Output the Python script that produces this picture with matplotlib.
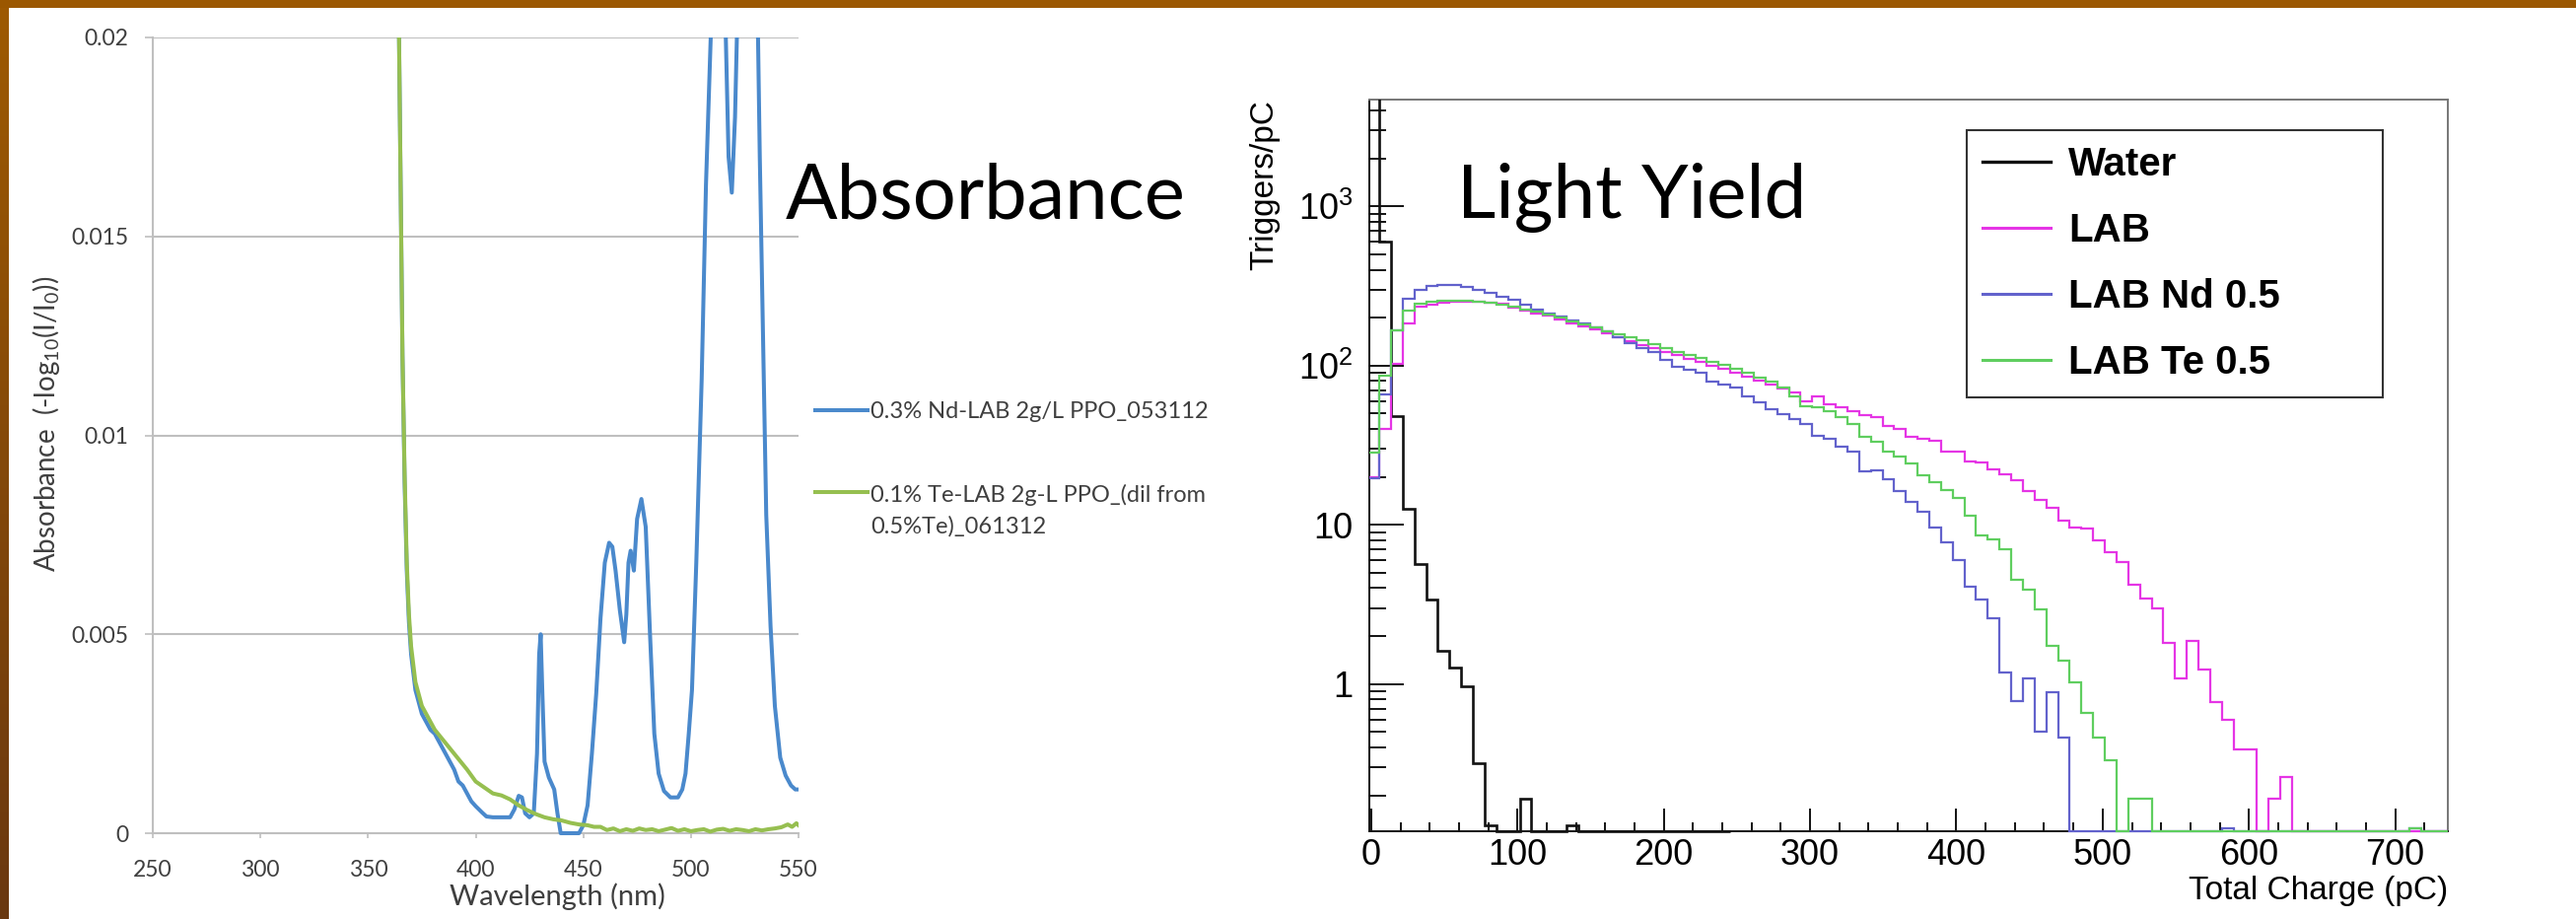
import numpy as np
import matplotlib
matplotlib.use("Agg")
import matplotlib.pyplot as plt
from matplotlib import font_manager
from matplotlib.patches import Rectangle
from matplotlib.lines import Line2D
from matplotlib.font_manager import FontProperties
from matplotlib.ticker import FixedLocator, FixedFormatter, MultipleLocator, LogLocator, NullFormatter

# ---------------- data: absorbance panel ----------------
nd_wavelength = [362, 364.4, 366, 367, 368, 369, 370, 372, 375, 377, 379, 381, 383, 385, 388, 390, 392, 394,
                 396, 398, 400, 403, 405, 408, 412, 416, 418, 420, 421.5, 423, 425, 427, 428.5, 429.5, 430.2,
                 431, 432, 434, 436.5, 438, 439.5, 448, 450, 452, 454, 456, 458, 460, 462, 463.5, 465, 467,
                 469, 470, 471, 472, 473.5, 475, 477, 479, 481, 483, 485, 487.5, 490.5, 494, 496, 497.5, 499,
                 500.5, 502.5, 505, 507, 509.5, 512, 514, 516, 517.5, 519, 520.5, 522, 525, 528, 530.5, 532,
                 533.5, 535, 537, 539, 541.5, 544, 546.5, 548.5, 550]
nd_absorbance = [0.03, 0.02, 0.012, 0.0088, 0.0066, 0.0053, 0.0045, 0.0036, 0.003, 0.0028, 0.0026, 0.0025,
                 0.0023, 0.0021, 0.0018, 0.0016, 0.0013, 0.0012, 0.001, 0.0008, 0.00068, 0.00052, 0.00042,
                 0.0004, 0.0004, 0.0004, 0.0006, 0.00094, 0.0009, 0.0005, 0.0004, 0.0005, 0.002, 0.0045,
                 0.005, 0.0035, 0.0018, 0.0014, 0.0011, 0.0005, 0.0, 0.0, 0.0002, 0.0007, 0.002, 0.0035,
                 0.0054, 0.0068, 0.0073, 0.0072, 0.0066, 0.0056, 0.0048, 0.0055, 0.0068, 0.0071, 0.0066,
                 0.0079, 0.0084, 0.0077, 0.005, 0.0025, 0.0015, 0.00106, 0.0009, 0.0009, 0.0011, 0.0015,
                 0.0025, 0.0036, 0.0068, 0.0114, 0.0163, 0.0205, 0.026, 0.025, 0.0205, 0.017, 0.0161, 0.018,
                 0.0215, 0.027, 0.027, 0.0225, 0.017, 0.0125, 0.008, 0.0052, 0.0032, 0.0019, 0.00145,
                 0.0012, 0.0011, 0.0011]
te_wavelength = [362, 364.4, 366, 367, 368, 369, 370, 372, 375, 378, 381, 384, 387, 390, 393, 396, 400, 404,
                 408, 412, 416, 420, 424, 428, 432, 436, 440, 444, 448, 452, 455, 458, 461, 464, 467, 470,
                 473, 476, 479, 482, 485, 488, 491, 494, 497, 500, 503, 506, 509, 512, 515, 518, 521, 524,
                 527, 530, 533, 536, 539, 542, 545, 547, 549, 550]
te_absorbance = [0.03, 0.02, 0.012, 0.009, 0.0068, 0.0055, 0.0047, 0.0038, 0.0032, 0.0029, 0.0026, 0.0024,
                 0.0022, 0.002, 0.0018, 0.0016, 0.0013, 0.00115, 0.001, 0.00095, 0.00085, 0.0007, 0.00058,
                 0.00048, 0.0004, 0.00035, 0.00032, 0.00026, 0.00022, 0.0002, 0.00016, 0.00016, 0.00008,
                 0.00012, 0.00005, 0.0001, 0.00006, 0.00012, 0.00008, 0.0001, 0.00005, 0.00009, 0.00013,
                 0.00006, 0.0001, 0.00005, 0.00008, 0.0001, 0.00004, 0.00009, 0.00011, 0.00006, 0.0001,
                 0.00008, 0.00005, 0.0001, 0.00007, 0.0001, 0.00012, 0.00015, 0.00022, 0.00016, 0.00025,
                 0.0002]
abs_series_labels = ["0.3% Nd-LAB 2g/L PPO_053112", "0.1% Te-LAB 2g-L PPO_(dil from\n0.5%Te)_061312"]
abs_xticks = [250, 300, 350, 400, 450, 500, 550]
abs_yticks = [0, 0.005, 0.01, 0.015, 0.02]
abs_ytick_labels = ["0", "0.005", "0.01", "0.015", "0.02"]

# ---------------- data: light-yield panel ----------------
charge_first_edge = -2.5
charge_bin_width = 8.0
water_counts = [6000, 600, 48, 12.6, 5.67, 3.4, 1.62, 1.27, 0.97, 0.32, 0.13, 0, 0, 0.19, 0, 0, 0, 0.13,
                0, 0, 0, 0, 0, 0, 0, 0, 0, 0, 0, 0, 0]
lab_counts = [20, 40, 103, 185, 235, 240, 248, 252, 252, 250,
              248, 244, 232, 220, 212, 205, 195, 185, 176, 168,
              160, 150, 142, 134, 128, 122, 116, 110, 105, 100,
              95, 90, 85, 80, 76, 72, 67.4, 60, 64.3, 57,
              54.5, 52, 49, 47.5, 42, 40, 35.5, 34.5, 33.5, 29,
              28.7, 25, 24.5, 22.4, 20.8, 19.1, 16.2, 14.4, 12.8, 10.6,
              9.6, 9.5, 7.95, 6.7, 5.8, 4.2, 3.46, 3.0, 1.82, 1.08,
              1.87, 1.24, 0.77, 0.60, 0.39, 0.39, 0, 0.19, 0.26, 0,
              0, 0, 0, 0, 0, 0, 0, 0, 0, 0,
              0, 0, 0]
lab_nd_counts = [19.6, 66, 167, 261, 300, 318, 322, 320, 313, 300,
                 285, 270, 258, 240, 225, 213, 202, 192, 183, 174,
                 163, 150, 138, 128, 122, 108, 98.6, 94, 89.7, 79.6,
                 76, 72.4, 64.3, 58.5, 53.2, 49.6, 46.2, 43, 36.4, 34.7,
                 30.8, 28.7, 21.6, 22.1, 19.2, 16.2, 14, 12, 9.6, 7.8,
                 6.0, 4.1, 3.4, 2.6, 1.19, 0.78, 1.08, 0.50, 0.89, 0.46,
                 0, 0, 0, 0, 0, 0, 0, 0, 0, 0,
                 0, 0, 0, 0.125, 0, 0, 0, 0, 0, 0,
                 0, 0, 0, 0, 0, 0, 0, 0, 0, 0.125,
                 0, 0, 0]
lab_te_counts = [28.6, 86.5, 167, 220, 245, 250, 255, 256, 255, 252,
                 248, 242, 235, 226, 217, 208, 199, 190, 181, 173,
                 165, 158, 151, 144, 137, 128, 122, 116, 111, 106,
                 101, 96, 90, 83.5, 79.6, 72.4, 64.3, 55.7, 54.4, 51.9,
                 47.2, 42.9, 35.5, 33.1, 28.7, 26.7, 24.3, 20.5, 18.5, 16.5,
                 14.7, 11.4, 8.6, 8.1, 7.05, 4.49, 3.89, 2.93, 1.74, 1.40,
                 1.03, 0.66, 0.46, 0.33, 0, 0.19, 0.19, 0, 0, 0,
                 0, 0, 0, 0, 0, 0, 0, 0, 0, 0,
                 0, 0, 0, 0, 0, 0, 0, 0, 0, 0.125,
                 0, 0, 0]
ly_series_labels = ["Water", "LAB", "LAB Nd 0.5", "LAB Te 0.5"]
charge_xticks = [0, 100, 200, 300, 400, 500, 600, 700]
ly_yticks = [1, 10, 100, 1000]
ly_ytick_labels = ["1", "10", "$10^{2}$", "$10^{3}$"]

# ---------------- setup ----------------
W, H, DPI = 2613, 932, 100


def font_ok(name):
    try:
        font_manager.findfont(FontProperties(family=name), fallback_to_default=False)
        return True
    except Exception:
        return False


NARROW = font_ok("Liberation Sans Narrow")
ROOT_FONT = "Liberation Sans Narrow" if NARROW else "Liberation Sans"
TICK_FS = 29 if NARROW else 26
TITLE_FS = 27 if NARROW else 24

plt.rcParams["font.family"] = ["Lato", "DejaVu Sans"]
plt.rcParams["mathtext.default"] = "regular"


def fx(px):
    return px / W


def fy(py):
    return 1 - py / H


fig = plt.figure(figsize=(W / DPI, H / DPI), dpi=DPI)
fig.patch.set_facecolor("white")

# slide border (brown)
band = fig.add_axes([0, 0, 9 / W, 1])
g = np.linspace(0, 1, 256)[:, None, None]
top_c = np.array([0x9e, 0x5a, 0x02]) / 255
bot_c = np.array([0x6a, 0x38, 0x10]) / 255
band.imshow(top_c * (1 - g) + bot_c * g, aspect="auto", extent=[0, 1, 0, 1])
band.axis("off")
fig.add_artist(Rectangle((0, fy(8)), 1, 8 / H, transform=fig.transFigure,
                         facecolor="#9b5700", edgecolor="none", zorder=5))

# ================= Absorbance panel =================
ax1 = fig.add_axes([fx(155), 1 - 845 / H, 655 / W, 807 / H])
ax1.set_xlim(250, 550)
ax1.set_ylim(0, 0.02)
gray = "#bfbfbf"
txt_gray = "#3f3f3f"
for s in ["top", "right"]:
    ax1.spines[s].set_visible(False)
for s in ["left", "bottom"]:
    ax1.spines[s].set_color(gray)
    ax1.spines[s].set_linewidth(1.5)
ax1.yaxis.grid(True, color=gray, lw=1.5)
ax1.set_axisbelow(True)
ax1.xaxis.set_major_locator(FixedLocator(abs_xticks))
ax1.yaxis.set_major_locator(FixedLocator(abs_yticks))
ax1.yaxis.set_major_formatter(FixedFormatter(abs_ytick_labels))
ax1.tick_params(axis="x", direction="out", length=3.6, width=1.2, color=gray, pad=15.5,
                labelsize=16.5, labelcolor=txt_gray)
ax1.tick_params(axis="y", direction="out", length=5.8, width=1.2, color=gray, pad=12,
                labelsize=16.5, labelcolor=txt_gray)

nd_color = "#4a89cc"
te_color = "#96bf50"
l_nd, = ax1.plot(nd_wavelength, nd_absorbance, color=nd_color, lw=2.9, solid_joinstyle="round",
                 label=abs_series_labels[0], zorder=3)
l_te, = ax1.plot(te_wavelength, te_absorbance, color=te_color, lw=2.9, solid_joinstyle="round",
                 label=abs_series_labels[1], zorder=4)
for ln in (l_nd, l_te):
    ln.set_clip_path(Rectangle((0, -0.02), 1, 1.02, transform=ax1.transAxes))

ax1.set_xlabel("Wavelength (nm)", fontsize=21, color=txt_gray)
ax1.xaxis.label.set_va("top")
ax1.xaxis.set_label_coords(0.627, -0.063)
ax1.set_ylabel("Absorbance  (-log$_{10}$(I/I$_{0}$))", fontsize=20, color=txt_gray)
ax1.yaxis.label.set_rotation_mode("default")
ax1.yaxis.label.set_ha("center")
ax1.yaxis.label.set_va("center")
ax1.yaxis.set_label_coords(-0.165, 0.514)

# Excel-style legend at the right of the plot
fig.add_artist(Line2D([fx(827), fx(880)], [fy(416), fy(416)], color=nd_color, lw=2.9,
                      transform=fig.transFigure))
fig.add_artist(Line2D([fx(827), fx(880)], [fy(499), fy(499)], color=te_color, lw=2.9,
                      transform=fig.transFigure))
fig.text(fx(883), fy(417), abs_series_labels[0], fontsize=17, color=txt_gray, va="center", ha="left")
fig.text(fx(883), fy(491), abs_series_labels[1], fontsize=17, color=txt_gray, va="top", ha="left",
         linespacing=1.55)

fig.text(fx(797), fy(221), "Absorbance", fontsize=56, color="black", va="baseline", ha="left")

# ================= Light-yield panel =================
ax2 = fig.add_axes([fx(1389), 1 - 843 / H, 1094 / W, 742 / H])
ax2.set_yscale("log")
ax2.set_xlim(-1.3, 736)
ax2.set_ylim(0.119, 4680)
ymin = ax2.get_ylim()[0]

edges_w = charge_first_edge + charge_bin_width * np.arange(len(water_counts) + 1)
edges_c = charge_first_edge + charge_bin_width * np.arange(len(lab_counts) + 1)
series = [
    (water_counts, edges_w, "#111111", 1.9),
    (lab_counts, edges_c, "#e535e5", 1.6),
    (lab_nd_counts, edges_c, "#6262cc", 1.6),
    (lab_te_counts, edges_c, "#5fce5f", 1.6),
]
handles = []
for (vals, edges, col, lw), lab in zip(series, ly_series_labels):
    st = ax2.stairs(np.maximum(np.asarray(vals, float), ymin), edges, baseline=None,
                    color=col, lw=lw, zorder=3)
    st.set_clip_path(Rectangle((0, -0.01), 1, 1.01, transform=ax2.transAxes))
    handles.append(Line2D([], [], color=col, lw=2.2 if lab != "Water" else 2.4, label=lab))

for s in ["left", "bottom"]:
    ax2.spines[s].set_color("#111111")
    ax2.spines[s].set_linewidth(1.4)
for s in ["top", "right"]:
    ax2.spines[s].set_color("#777777")
    ax2.spines[s].set_linewidth(1.4)

ax2.xaxis.set_major_locator(FixedLocator(charge_xticks))
ax2.xaxis.set_minor_locator(MultipleLocator(20))
ax2.yaxis.set_major_locator(FixedLocator(ly_yticks))
ax2.yaxis.set_major_formatter(FixedFormatter(ly_ytick_labels))
ax2.yaxis.set_minor_locator(LogLocator(base=10, subs=np.arange(2, 10), numticks=50))
ax2.yaxis.set_minor_formatter(NullFormatter())
ax2.tick_params(axis="x", which="major", direction="in", length=16.5, width=1.4, color="#111111",
                pad=5, labelsize=TICK_FS, labelfontfamily=ROOT_FONT)
ax2.tick_params(axis="x", which="minor", direction="in", length=6.8, width=1.4, color="#111111")
ax2.tick_params(axis="y", which="major", direction="in", length=25, width=1.4, color="#111111",
                pad=12, labelsize=TICK_FS, labelfontfamily=ROOT_FONT)
ax2.tick_params(axis="y", which="minor", direction="in", length=12, width=1.4, color="#111111")

ax2.set_xlabel("Total Charge (pC)", fontsize=TITLE_FS, family=ROOT_FONT)
ax2.xaxis.label.set_ha("right")
ax2.xaxis.label.set_va("top")
ax2.xaxis.set_label_coords(1.0, -0.061)
ax2.set_ylabel("Triggers/pC", fontsize=TITLE_FS, family=ROOT_FONT)
ax2.yaxis.label.set_rotation_mode("default")
ax2.yaxis.label.set_ha("center")
ax2.yaxis.label.set_va("top")
ax2.yaxis.set_label_coords(-0.097, 1.0)

leg_fs = 29
leg = ax2.legend(handles=handles, loc="upper left",
                 bbox_to_anchor=(fx(1995), fy(404), (2417 - 1995) / W, (404 - 132) / H),
                 bbox_transform=fig.transFigure, mode="expand", borderaxespad=0,
                 prop=FontProperties(family="Liberation Sans", weight="bold", size=leg_fs),
                 handlelength=1.71, handletextpad=0.45, labelspacing=0.72, borderpad=0.4,
                 fancybox=False, framealpha=1, edgecolor="#333333")
leg.get_frame().set_linewidth(1.5)

fig.text(fx(1478), fy(221), "Light Yield", fontsize=55, color="black", va="baseline", ha="left")

fig.savefig("out.png", dpi=DPI)
